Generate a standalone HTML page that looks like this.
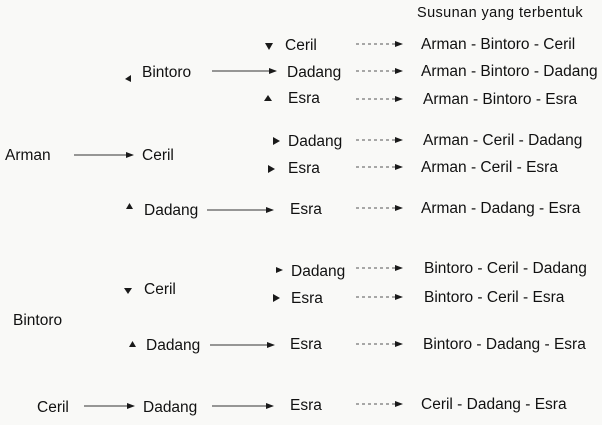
<!DOCTYPE html>
<html><head><meta charset="utf-8"><style>
html,body{margin:0;padding:0;background:#f9f9f7;}
svg{display:block}
text{font-family:"Liberation Sans",sans-serif;font-size:15.5px;fill:#111;letter-spacing:0}
</style></head><body>
<svg width="602" height="425" viewBox="0 0 602 425">
<defs>
<marker id="a" markerWidth="8" markerHeight="6" refX="7" refY="3" orient="auto" markerUnits="userSpaceOnUse"><path d="M0,0 L8,3 L0,6 Z" fill="#1a1a1a"/></marker>
</defs>
<g stroke="#333" stroke-width="1" fill="none">
<line x1="74" y1="155" x2="133" y2="155" marker-end="url(#a)"/>
<line x1="212" y1="71" x2="276" y2="71" marker-end="url(#a)"/>
<line x1="207" y1="210" x2="273" y2="210" marker-end="url(#a)"/>
<line x1="210" y1="345" x2="274" y2="345" marker-end="url(#a)"/>
<line x1="84" y1="406" x2="134" y2="406" marker-end="url(#a)"/>
<line x1="212" y1="406" x2="273" y2="406" marker-end="url(#a)"/>
<g stroke-dasharray="3,3" stroke="#555">
<line x1="356" y1="44" x2="402" y2="44" marker-end="url(#a)"/>
<line x1="356" y1="71" x2="402" y2="71" marker-end="url(#a)"/>
<line x1="356" y1="99" x2="402" y2="99" marker-end="url(#a)"/>
<line x1="356" y1="140" x2="402" y2="140" marker-end="url(#a)"/>
<line x1="356" y1="167" x2="402" y2="167" marker-end="url(#a)"/>
<line x1="356" y1="208" x2="402" y2="208" marker-end="url(#a)"/>
<line x1="356" y1="268" x2="402" y2="268" marker-end="url(#a)"/>
<line x1="356" y1="297" x2="402" y2="297" marker-end="url(#a)"/>
<line x1="356" y1="344" x2="402" y2="344" marker-end="url(#a)"/>
<line x1="356" y1="404" x2="402" y2="404" marker-end="url(#a)"/>
</g>
</g>
<g fill="#1a1a1a">
<path d="M265,43 L273,43 L269,50 Z"/>
<path d="M131,75 L125,79 L131,82 Z"/>
<path d="M264,101 L272,101 L268,95 Z"/>
<path d="M273,137 L280,141 L273,145 Z"/>
<path d="M268,165 L275,169 L268,173 Z"/>
<path d="M126,209 L133,209 L129.5,203 Z"/>
<path d="M276,267 L283,270 L276,273 Z"/>
<path d="M124,288 L132,288 L128,294 Z"/>
<path d="M273,294 L280,298 L273,302 Z"/>
<path d="M129,347 L136,347 L132.5,341 Z"/>
</g>
<text x="417" y="17" style="font-size:14.5px;letter-spacing:0.4px">Susunan yang terbentuk</text>
<text x="285" y="50">Ceril</text>
<text x="142" y="77">Bintoro</text>
<text x="287" y="77">Dadang</text>
<text x="288" y="103">Esra</text>
<text x="288" y="146">Dadang</text>
<text x="288" y="173">Esra</text>
<text x="5" y="160">Arman</text>
<text x="142" y="160">Ceril</text>
<text x="144" y="215">Dadang</text>
<text x="290" y="214">Esra</text>
<text x="291" y="276">Dadang</text>
<text x="144" y="294">Ceril</text>
<text x="291" y="303">Esra</text>
<text x="13" y="325">Bintoro</text>
<text x="146" y="350">Dadang</text>
<text x="290" y="349">Esra</text>
<text x="37" y="412">Ceril</text>
<text x="143" y="412">Dadang</text>
<text x="290" y="410">Esra</text>
<text x="421" y="49">Arman - Bintoro - Ceril</text>
<text x="421" y="76">Arman - Bintoro - Dadang</text>
<text x="423" y="104">Arman - Bintoro - Esra</text>
<text x="423" y="145">Arman - Ceril - Dadang</text>
<text x="421" y="172">Arman - Ceril - Esra</text>
<text x="421" y="213">Arman - Dadang - Esra</text>
<text x="424" y="273">Bintoro - Ceril - Dadang</text>
<text x="424" y="302">Bintoro - Ceril - Esra</text>
<text x="423" y="349">Bintoro - Dadang - Esra</text>
<text x="421" y="409">Ceril - Dadang - Esra</text>
</svg>
</body></html>
